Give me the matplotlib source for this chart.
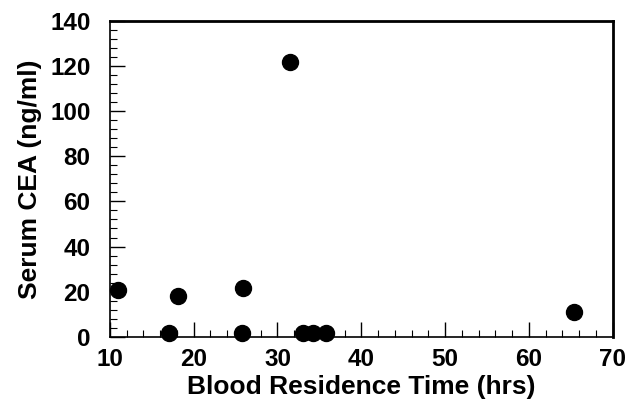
import numpy as np
import matplotlib.pyplot as plt
from matplotlib.ticker import MultipleLocator

# Blood residence time (hrs) vs serum CEA (ng/ml)
residence_hrs = [11.0, 17.0, 18.1, 25.8, 25.9, 31.5, 33.0, 34.2, 35.8, 65.4]
cea_ngml = [20.8, 1.9, 18.1, 1.8, 21.7, 121.7, 1.9, 1.9, 1.9, 11.2]

plt.rcParams['font.family'] = ['Liberation Sans', 'DejaVu Sans']
plt.rcParams['font.weight'] = 'bold'

fig = plt.figure(figsize=(6.35, 4.04), dpi=100)
ax = fig.add_axes([0.173, 0.166, 0.792, 0.783])

ax.plot(residence_hrs, cea_ngml, 'o', color='black', markersize=11.5, clip_on=False, zorder=3)

ax.set_xlim(10, 70)
ax.set_ylim(0, 140)
ax.xaxis.set_major_locator(MultipleLocator(10))
ax.xaxis.set_minor_locator(MultipleLocator(2))
ax.yaxis.set_major_locator(MultipleLocator(20))
ax.yaxis.set_minor_locator(MultipleLocator(4))

ax.tick_params(which='major', direction='in', length=11, width=1, labelsize=17.5)
ax.tick_params(which='minor', direction='in', length=5, width=0.8)
ax.tick_params(axis='y', which='major', pad=14)
ax.tick_params(axis='x', which='major', pad=8)
for lbl in ax.get_xticklabels() + ax.get_yticklabels():
    lbl.set_fontweight('bold')

for side in ['top', 'right']:
    ax.spines[side].set_linewidth(2)
for side in ['left', 'bottom']:
    ax.spines[side].set_linewidth(1.2)

ax.set_xlabel('Blood Residence Time (hrs)', fontsize=19, fontweight='bold', labelpad=3)
ax.set_ylabel('Serum CEA (ng/ml)', fontsize=19, fontweight='bold', labelpad=6)

fig.savefig('out.png', dpi=100)
